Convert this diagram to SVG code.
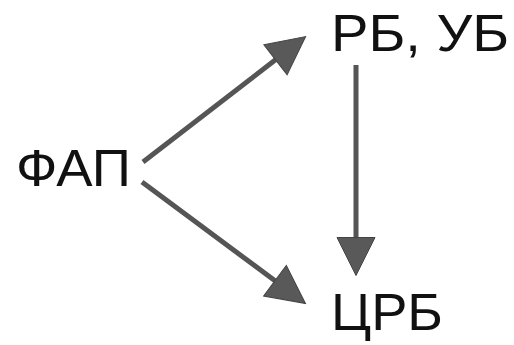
<svg xmlns="http://www.w3.org/2000/svg" width="514" height="345" viewBox="0 0 514 345">
  <style>
    .lbl { font-family: "Liberation Sans", Arial, sans-serif; font-size: 52px; fill: #111; }
    .edge { stroke: #555; stroke-width: 5; fill: none; }
  </style>
  <defs>
    <marker id="head" markerUnits="userSpaceOnUse" markerWidth="40" markerHeight="40" refX="1" refY="20" orient="auto" viewBox="0 0 40 40">
      <path d="M1,1 L39,20 L1,39 Z" fill="#595959" stroke="#444" stroke-width="1"/>
    </marker>
  </defs>
  <rect width="514" height="345" fill="#fff"/>
  <g id="connectors">
    <line class="edge" x1="143" y1="162" x2="275.5" y2="59.8" marker-end="url(#head)"/>
    <line class="edge" x1="142" y1="182" x2="275" y2="280.8" marker-end="url(#head)"/>
    <line class="edge" x1="356" y1="65" x2="356" y2="237.5" marker-end="url(#head)"/>
  </g>
  <g id="node-fap">
    <text class="lbl" x="16" y="186" textLength="115" lengthAdjust="spacingAndGlyphs">ФАП</text>
  </g>
  <g id="node-rb-ub">
    <text class="lbl" x="331" y="51" textLength="178" lengthAdjust="spacingAndGlyphs">РБ, УБ</text>
  </g>
  <g id="node-crb">
    <text class="lbl" x="331" y="330" textLength="112" lengthAdjust="spacingAndGlyphs">ЦРБ</text>
  </g>
</svg>
